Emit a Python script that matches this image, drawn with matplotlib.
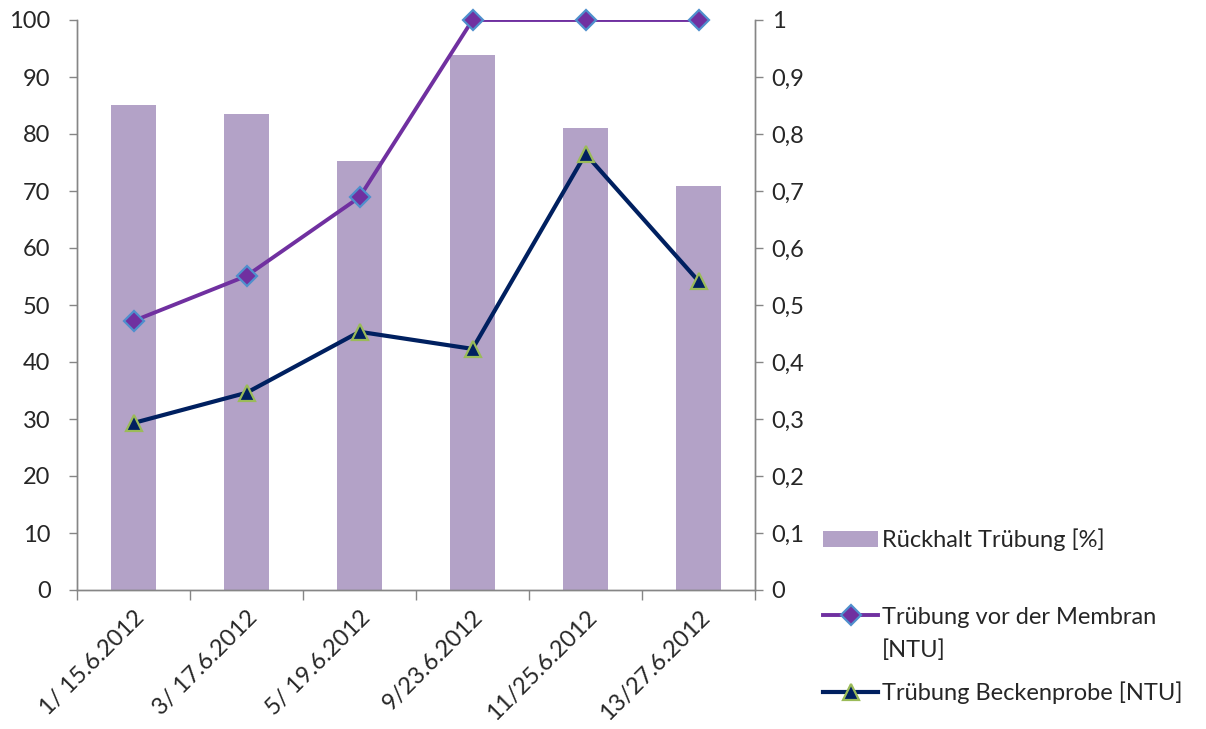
import matplotlib
matplotlib.use("Agg")
import matplotlib.pyplot as plt
from matplotlib.ticker import FixedLocator, FuncFormatter
from matplotlib.lines import Line2D
from matplotlib.patches import Patch
import numpy as np

categories = ["1/ 15.6.2012", "3/ 17.6.2012", "5/ 19.6.2012", "9/23.6.2012", "11/25.6.2012", "13/27.6.2012"]
rueckhalt = [85.1, 83.5, 75.3, 93.9, 81.1, 70.9]
vor_membran = [0.472, 0.551, 0.689, 1.0, 1.0, 1.0]
beckenprobe = [0.293, 0.346, 0.453, 0.423, 0.765, 0.542]

plt.rcParams['font.family'] = ['Lato', 'DejaVu Sans']
axis_col = '#868686'
txt_col = '#262626'
FS = 17

bar_col = '#B3A2C7'
p_col = '#7030A0'
p_edge = '#4F8FCD'
n_col = '#002060'
n_edge = '#9BBB59'

fig = plt.figure(figsize=(12.06, 7.29), dpi=100)
ax = fig.add_axes([77/1206, 1-590/729, (755-77)/1206, (590-20)/729])
ax2 = ax.twinx()

x = np.arange(len(categories))
ax.bar(x, rueckhalt, width=0.4, color=bar_col, zorder=1)
ax.set_xlim(-0.5, len(categories)-0.5)
ax.set_ylim(0, 100)
ax.set_yticks(np.arange(0, 101, 10))
ax2.set_ylim(0, 1)
ax2.set_yticks(np.arange(0, 1.01, 0.1))
ax2.yaxis.set_major_formatter(FuncFormatter(lambda v, p: ('%g' % round(v, 1)).replace('.', ',')))

ax2.plot(x, vor_membran, color=p_col, lw=2.8, zorder=3)
ax2.plot(x, vor_membran, ls='none', marker='D', ms=10, mfc=p_col, mec=p_edge, mew=1.6, clip_on=False, zorder=4)
ax2.plot(x, beckenprobe, color=n_col, lw=3.0, zorder=3)
ax2.plot(x, beckenprobe, ls='none', marker='^', ms=11, mfc=n_col, mec=n_edge, mew=1.6, clip_on=False, zorder=4)

for a in (ax, ax2):
    a.spines['top'].set_visible(False)
    for s in ('left', 'right', 'bottom'):
        a.spines[s].set_color(axis_col)
        a.spines[s].set_linewidth(1.0)
    a.tick_params(axis='y', colors=axis_col, labelcolor=txt_col, labelsize=FS, length=6, width=1.0)

ax.set_xticks(x)
ax.set_xticklabels(categories, rotation=45, ha='right', rotation_mode='anchor', fontsize=FS, color=txt_col)
ax.tick_params(axis='x', which='major', length=0, pad=12)
ax.xaxis.set_minor_locator(FixedLocator(np.arange(-0.5, len(categories), 1.0)))
ax.tick_params(axis='x', which='minor', length=7, width=1.0, color=axis_col)
ax.tick_params(axis='y', pad=13)
ax2.tick_params(axis='y', pad=6)

ax.set_zorder(ax2.get_zorder() - 1)
ax2.patch.set_visible(False)

# legend entries placed individually (Excel-like layout)
h1 = Patch(facecolor=bar_col, edgecolor='none')
h2 = Line2D([], [], color=p_col, lw=2.8, marker='D', ms=10, mfc=p_col, mec=p_edge, mew=1.6)
h3 = Line2D([], [], color=n_col, lw=3.0, marker='^', ms=11, mfc=n_col, mec=n_edge, mew=1.6)
common = dict(loc='center left', frameon=False, fontsize=FS, handlelength=2.35,
              handletextpad=0.15, borderpad=0, borderaxespad=0, labelcolor=txt_col)
fig.legend([h1], ['Rückhalt Trübung [%]'], bbox_to_anchor=(823/1206, 1-540/729), **common)
fig.legend([h2], ['Trübung vor der Membran'], bbox_to_anchor=(823/1206, 1-617/729), **common)
fig.text(882/1206, 1-650/729, '[NTU]', fontsize=FS, color=txt_col, va='center', ha='left')
fig.legend([h3], ['Trübung Beckenprobe [NTU]'], bbox_to_anchor=(823/1206, 1-693/729), **common)

fig.savefig('out.png', dpi=100)
